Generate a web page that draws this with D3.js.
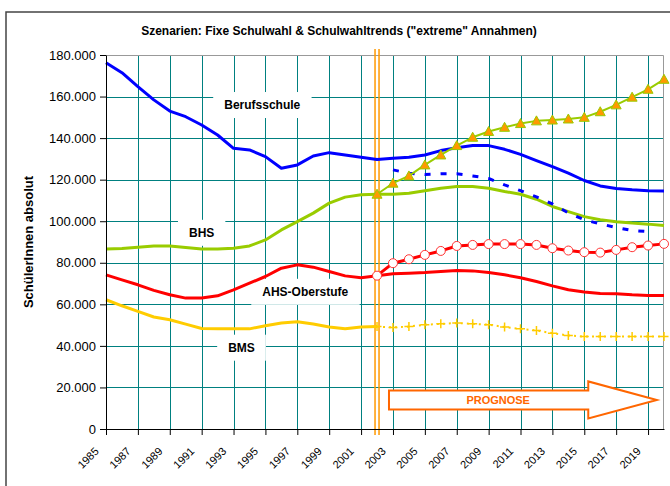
<!DOCTYPE html>
<html>
<head>
<meta charset="utf-8">
<script src="https://cdn.jsdelivr.net/npm/d3@7"></script>
<style>
  body { margin: 0; background: #fff; }
  svg { display: block; font-family: 'Liberation Sans', Arial, sans-serif; }
</style>
</head>
<body>
<svg id="chart" width="670" height="486"></svg>
<script>
// years on the category axis
var years = [1985, 1986, 1987, 1988, 1989, 1990, 1991, 1992, 1993, 1994, 1995, 1996,
  1997, 1998, 1999, 2000, 2001, 2002, 2003, 2004, 2005, 2006, 2007, 2008,
  2009, 2010, 2011, 2012, 2013, 2014, 2015, 2016, 2017, 2018, 2019, 2020]
var tickYears = [1985, 1987, 1989, 1991, 1993, 1995, 1997, 1999, 2001, 2003,
  2005, 2007, 2009, 2011, 2013, 2015, 2017, 2019]
var yTicks = [0, 20000, 40000, 60000, 80000, 100000, 120000, 140000, 160000, 180000]

// fixed school choice, 1985-2020
var berufsschule = [176300, 171500, 164800, 158400, 153000, 150300, 146300, 141500, 135100, 134300,
  131100, 125500, 127100, 131400, 133000, 131900, 130800, 129700, 130300, 130800, 131900, 134000,
  135400, 136400, 136400, 134600, 132200, 129200, 126300, 123100, 119600, 117000, 115700, 115100,
  114700, 114600]
var bhs = [86600, 86900, 87500, 88100, 88100, 87300, 86600, 86600, 87000, 88100, 91000, 95800,
  99800, 103900, 108700, 111600, 112700, 113000, 113000, 113500, 114700, 115900, 116700, 116700,
  115900, 114300, 113000, 110600, 107100, 104600, 102200, 100700, 99800, 99100, 98600, 97900]
var ahs = [74200, 71800, 69400, 66700, 64600, 63000, 63000, 64100, 67000, 70200, 73400, 77400,
  79000, 77900, 75800, 73700, 72800, 73800, 74700, 75000, 75300, 75800, 76300, 76100,
  75300, 74200, 72800, 71000, 68900, 67000, 65900, 65200, 65100, 64600, 64300, 64300]
// BMS observed part 1985-2002
var bms = [62200, 59300, 56600, 53900, 52600, 50500, 48400, 48200, 48200, 48200, 49700, 51000,
  51600, 50500, 49100, 48200, 49100, 49300]

// trend scenarios 2002-2020
var progYears = [2002, 2003, 2004, 2005, 2006, 2007, 2008, 2009, 2010, 2011, 2012, 2013,
  2014, 2015, 2016, 2017, 2018, 2019, 2020]
var bhsTrend = [113000, 118300, 121800, 127100, 131900, 136400, 140400, 143200, 145200, 147000,
  148300, 148700, 149200, 150000, 152700, 156000, 159700, 163500, 168300]
var ahsTrend = [73800, 79800, 81700, 83800, 85700, 88100, 88600, 89000, 89000, 89000,
  88600, 87000, 85900, 85100, 84900, 86200, 87500, 88300, 89100]
var bmsProg = [49300, 48900, 49300, 50200, 50600, 51000, 50600, 50200, 49100, 48200,
  47400, 46100, 45000, 44500, 44500, 44500, 44500, 44500, 44500]
// Berufsschule trend 2003-2019
var bsTrendYears = [2003, 2004, 2005, 2006, 2007, 2008, 2009, 2010, 2011, 2012, 2013,
  2014, 2015, 2016, 2017, 2018, 2019]
var bsTrend = [124700, 123100, 122500, 122800, 122800, 121800, 120600, 117500, 114700, 111700,
  108300, 104000, 100700, 98700, 97000, 95500, 95000]

var svg = d3.select('#chart')
var margin = {top: 55, right: 6, bottom: 57, left: 106}
var width = 670 - margin.left - margin.right
var height = 486 - margin.top - margin.bottom

// outer chart frame
svg.append('rect')
  .attr('x', 6).attr('y', 12)
  .attr('width', 700).attr('height', 500)
  .attr('fill', 'none')
  .attr('stroke', '#444')
  .attr('stroke-width', 1.5)

svg.append('text')
  .attr('x', 339).attr('y', 35)
  .attr('text-anchor', 'middle')
  .attr('font-size', 12)
  .attr('font-weight', 'bold')
  .text('Szenarien: Fixe Schulwahl & Schulwahltrends ("extreme" Annahmen)')

svg.append('text')
  .attr('transform', 'translate(33,242) rotate(-90)')
  .attr('text-anchor', 'middle')
  .attr('font-size', 13)
  .attr('font-weight', 'bold')
  .text('SchülerInnen absolut')

var g = svg.append('g')
  .attr('transform', 'translate(' + margin.left + ',' + margin.top + ')')

var x = d3.scaleLinear().domain([1985, 2020]).range([0, width])
var y = d3.scaleLinear().domain([0, 180000]).range([height, 0])

// grid
g.append('g')
  .selectAll('line')
  .data(yTicks.filter(function (d) { return d > 0 && d < 180000 }))
  .join('line')
  .attr('x1', 0).attr('x2', width)
  .attr('y1', function (d) { return Math.round(y(d)) + 0.5 })
  .attr('y2', function (d) { return Math.round(y(d)) + 0.5 })
  .attr('stroke', '#008080')
g.append('g')
  .selectAll('line')
  .data(tickYears.filter(function (d) { return d > 1985 }))
  .join('line')
  .attr('x1', function (d) { return Math.round(x(d)) + 0.5 })
  .attr('x2', function (d) { return Math.round(x(d)) + 0.5 })
  .attr('y1', 0).attr('y2', height)
  .attr('stroke', '#008080')

// plot border
g.append('path')
  .attr('d', 'M0,0.5H' + (width - 0.5) + 'V' + height)
  .attr('fill', 'none')
  .attr('stroke', '#999')

// series labels with white boxes
var labels = [
  {t: 'Berufsschule', yr: 1994.8, v: 154000},
  {t: 'BHS', yr: 1991, v: 92500},
  {t: 'AHS-Oberstufe', yr: 1997.5, v: 64100},
  {t: 'BMS', yr: 1993.5, v: 37200}
]
labels.forEach(function (l) {
  var lg = g.append('g')
  var tx = lg.append('text')
    .attr('x', x(l.yr)).attr('y', y(l.v))
    .attr('text-anchor', 'middle')
    .attr('font-size', 12)
    .attr('font-weight', 'bold')
    .text(l.t)
  var bb = tx.node().getBBox()
  lg.insert('rect', 'text')
    .attr('x', bb.x - 11).attr('y', bb.y - 6)
    .attr('width', bb.width + 22).attr('height', bb.height + 12)
    .attr('fill', '#fff')
})

// prognose marker lines
;[-2, 2].forEach(function (o) {
  g.append('line')
    .attr('x1', x(2002) + o).attr('x2', x(2002) + o)
    .attr('y1', -6).attr('y2', height + 6)
    .attr('stroke', '#FF9900')
    .attr('stroke-width', 1.5)
})

var line = d3.line()
  .x(function (d) { return x(d[0]) })
  .y(function (d) { return y(d[1]) })

function drawLine (xs, vs, color, w, dash) {
  g.append('path')
    .datum(d3.zip(xs, vs))
    .attr('fill', 'none')
    .attr('stroke', color)
    .attr('stroke-width', w)
    .attr('stroke-linejoin', 'round')
    .attr('stroke-dasharray', dash || null)
    .attr('d', line)
}

drawLine(years, berufsschule, '#0000FF', 3)
drawLine(years, bhs, '#99CC00', 3)
drawLine(years, ahs, '#FF0000', 3)
drawLine(years.slice(0, bms.length), bms, '#FFCC00', 3)

drawLine(bsTrendYears, bsTrend, '#0000FF', 3, '6,10')
drawLine(progYears, bmsProg, '#FFCC00', 2, '2,4')
drawLine(progYears, bhsTrend, '#99CC00', 2)
drawLine(progYears, ahsTrend, '#FF0000', 3)

// markers
g.append('g')
  .selectAll('path')
  .data(d3.zip(progYears, bmsProg))
  .join('path')
  .attr('d', function (d) {
    var cx = x(d[0]), cy = y(d[1])
    return 'M' + (cx - 4.5) + ',' + cy + 'H' + (cx + 4.5) + 'M' + cx + ',' + (cy - 4.5) + 'V' + (cy + 4.5)
  })
  .attr('stroke', '#FFCC00')
  .attr('stroke-width', 1.5)

g.append('g')
  .selectAll('path')
  .data(d3.zip(progYears, bhsTrend))
  .join('path')
  .attr('transform', function (d) { return 'translate(' + x(d[0]) + ',' + y(d[1]) + ')' })
  .attr('d', 'M0,-5L5,4H-5Z')
  .attr('fill', '#FF9900')
  .attr('stroke', '#99CC00')
  .attr('stroke-width', 1)

g.append('g')
  .selectAll('circle')
  .data(d3.zip(progYears, ahsTrend))
  .join('circle')
  .attr('cx', function (d) { return x(d[0]) })
  .attr('cy', function (d) { return y(d[1]) })
  .attr('r', 4.5)
  .attr('fill', '#fff')
  .attr('stroke', '#FF3333')
  .attr('stroke-width', 1)

// axes
g.append('g')
  .call(d3.axisLeft(y)
    .tickValues(yTicks)
    .tickSize(6)
    .tickSizeOuter(0)
    .tickPadding(4)
    .tickFormat(function (d) { return d3.format(',')(d).replace(/,/g, '.') }))
  .call(function (a) {
    a.selectAll('text').attr('font-size', 13).attr('fill', '#000')
      .attr('font-family', "'Liberation Sans', Arial, sans-serif")
  })

g.append('g')
  .attr('transform', 'translate(0,' + height + ')')
  .call(d3.axisBottom(x)
    .tickValues(tickYears)
    .tickSize(6)
    .tickSizeOuter(0)
    .tickFormat(d3.format('d')))
  .call(function (a) {
    a.selectAll('text')
      .attr('font-size', 11)
      .attr('fill', '#000')
      .attr('font-family', "'Liberation Sans', Arial, sans-serif")
      .attr('text-anchor', 'end')
      .attr('x', -7).attr('y', 23).attr('dy', 0)
      .attr('transform', 'rotate(-45,-7,23)')
  })

// PROGNOSE arrow
var ay = y(14000)
var arrow = d3.path()
arrow.moveTo(x(2002.75), ay - 9.5)
arrow.lineTo(x(2015.25), ay - 9.5)
arrow.lineTo(x(2015.25), ay - 18.5)
arrow.lineTo(x(2019.55), ay)
arrow.lineTo(x(2015.25), ay + 18.5)
arrow.lineTo(x(2015.25), ay + 9.5)
arrow.lineTo(x(2002.75), ay + 9.5)
arrow.closePath()
g.append('path')
  .attr('d', arrow.toString())
  .attr('fill', '#fff')
  .attr('stroke', '#FF6600')
  .attr('stroke-width', 2)
g.append('text')
  .attr('x', x(2009.6)).attr('y', ay + 4)
  .attr('text-anchor', 'middle')
  .attr('font-size', 11)
  .attr('font-weight', 'bold')
  .attr('fill', '#FF6600')
  .text('PROGNOSE')
</script>
</body>
</html>
